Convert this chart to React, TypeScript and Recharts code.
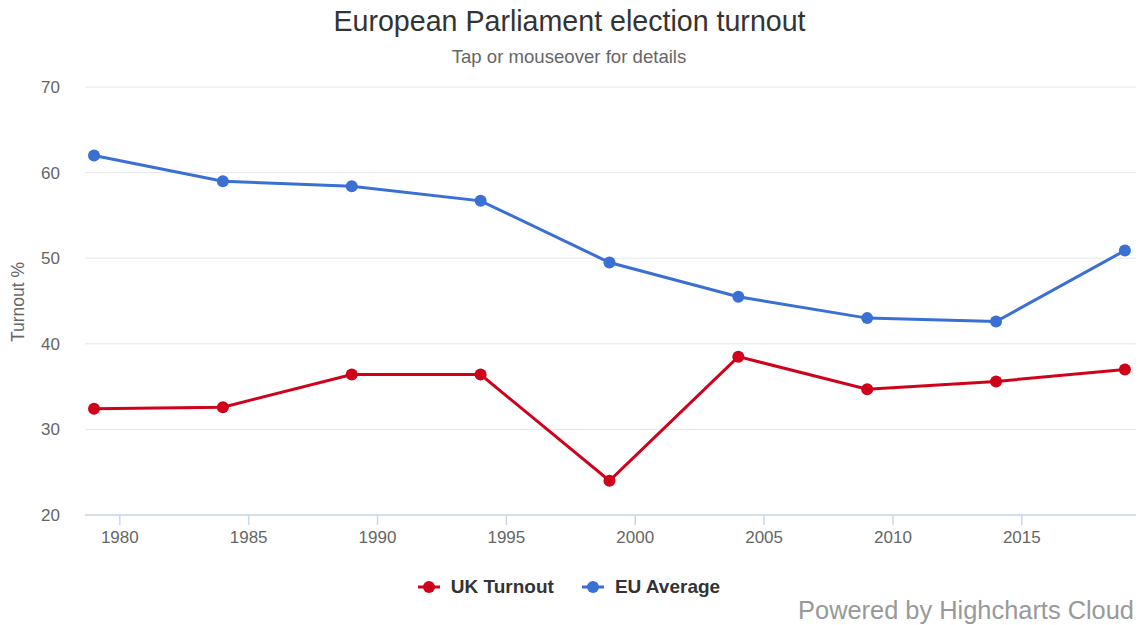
import React from 'react';
import { LineChart, Line, XAxis, YAxis, CartesianGrid } from 'recharts';

const years = [1979, 1984, 1989, 1994, 1999, 2004, 2009, 2014, 2019];
const ukTurnout = [32.4, 32.6, 36.4, 36.4, 24.0, 38.5, 34.7, 35.6, 37.0];
const euAverage = [62.0, 59.0, 58.4, 56.7, 49.5, 45.5, 43.0, 42.6, 50.9];
const xTicks = [1980, 1985, 1990, 1995, 2000, 2005, 2010, 2015];
const yTicks = [20, 30, 40, 50, 60, 70];

const RED = '#d0021b';
const BLUE = '#3a6fd3';
const FONT = '"Liberation Sans", Arial, Helvetica, sans-serif';

const data = years.map((year, i) => ({ year, uk: ukTurnout[i], eu: euAverage[i] }));

const legendItems = [
  { name: 'UK Turnout', color: RED },
  { name: 'EU Average', color: BLUE },
];

function LegendSymbol({ color }: { color: string }) {
  return (
    <svg width={22} height={14} style={{ marginRight: 11 }}>
      <line x1={0} y1={7} x2={22} y2={7} stroke={color} strokeWidth={3} />
      <circle cx={11} cy={7} r={6} fill={color} />
    </svg>
  );
}

export default function App() {
  return (
    <div style={{ position: 'fixed', left: 0, top: 0, width: 1138, height: 625, background: '#fff', fontFamily: FONT }}>
      <svg width={1138} height={80} style={{ position: 'absolute', left: 0, top: 0 }}>
        <text x={569.5} y={31} textAnchor="middle" fontSize={28.6} fill="#333333" fontFamily={FONT}>
          European Parliament election turnout
        </text>
        <text x={569} y={63} textAnchor="middle" fontSize={18.6} fill="#666666" fontFamily={FONT}>
          Tap or mouseover for details
        </text>
      </svg>
      <LineChart
        width={1138}
        height={625}
        data={data}
        margin={{ top: 87, right: 2, left: 0, bottom: 80 }}
        style={{ position: 'absolute', left: 0, top: 0 }}
      >
        <CartesianGrid horizontal vertical={false} stroke="#e6e6e6" strokeWidth={1} />
        <XAxis
          dataKey="year"
          type="number"
          domain={[1978.65, 2019.43]}
          ticks={xTicks}
          allowDataOverflow
          height={30}
          stroke="#ccd6eb"
          strokeWidth={1.5}
          tickSize={10}
          tickMargin={6}
          tick={{ fill: '#666666', fontSize: 17, fontFamily: FONT }}
        />
        <YAxis
          type="number"
          domain={[20, 70]}
          ticks={yTicks}
          width={85}
          axisLine={false}
          tickLine={false}
          tickSize={0}
          tickMargin={25}
          tick={{ fill: '#666666', fontSize: 17, fontFamily: FONT }}
          label={{
            content: () => (
              <text
                x={24}
                y={302}
                transform="rotate(-90 24 302)"
                textAnchor="middle"
                fontSize={17.5}
                fill="#666666"
                fontFamily={FONT}
              >
                Turnout %
              </text>
            ),
          }}
        />
        <Line
          dataKey="uk"
          name="UK Turnout"
          stroke={RED}
          strokeWidth={3}
          dot={{ r: 6, fill: RED, stroke: RED, strokeWidth: 0 }}
          activeDot={false}
          isAnimationActive={false}
        />
        <Line
          dataKey="eu"
          name="EU Average"
          stroke={BLUE}
          strokeWidth={3}
          dot={{ r: 6, fill: BLUE, stroke: BLUE, strokeWidth: 0 }}
          activeDot={false}
          isAnimationActive={false}
        />
      </LineChart>
      <div
        style={{
          position: 'absolute',
          left: 0,
          top: 575,
          width: 1138,
          display: 'flex',
          justifyContent: 'center',
          alignItems: 'center',
          gap: 28,
          height: 24,
        }}
      >
        {legendItems.map((item) => (
          <div key={item.name} style={{ display: 'flex', alignItems: 'center' }}>
            <LegendSymbol color={item.color} />
            <span style={{ fontSize: 19, fontWeight: 'bold', color: '#333333', lineHeight: '24px' }}>{item.name}</span>
          </div>
        ))}
      </div>
      <svg width={1138} height={40} style={{ position: 'absolute', left: 0, top: 590 }}>
        <text x={1134} y={29} textAnchor="end" fontSize={25.4} fill="#999999" fontFamily={FONT}>
          Powered by Highcharts Cloud
        </text>
      </svg>
    </div>
  );
}
